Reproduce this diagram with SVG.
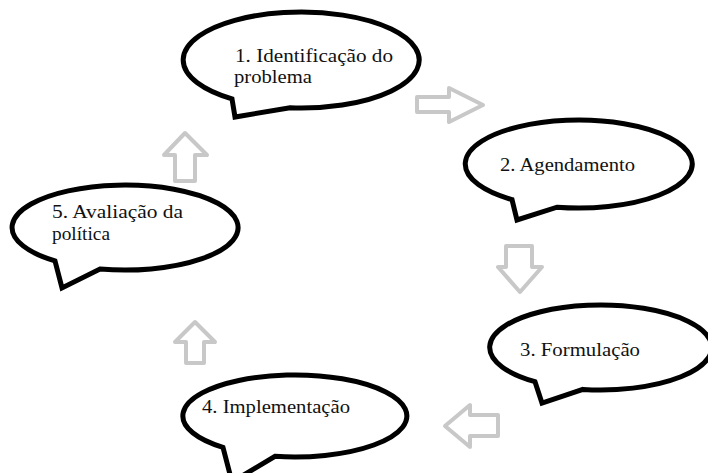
<svg xmlns="http://www.w3.org/2000/svg" width="708" height="473" viewBox="0 0 708 473">
<style>
.bubble{fill:#fff;stroke:#000;stroke-width:5;stroke-linejoin:miter}
.lbl{font-size:19px;fill:#111}
.arrow{fill:#fff;stroke:#c8c8c8;stroke-width:4;stroke-linejoin:round}
</style>
<rect width="708" height="473" fill="#fff"/>
<g id="connectors">
<polygon class="arrow" points="417,97 449,97 449,88 483,105 449,122 449,112 417,112"/>
<polygon class="arrow" points="506,246 532,246 532,267 542,267 520,292 498,267 506,267"/>
<polygon class="arrow" points="445,426 470,405 470,415 498,415 498,436 470,436 470,447"/>
<polygon class="arrow" points="195,322 215,342 204,342 204,363 186,363 186,342 175,342"/>
<polygon class="arrow" points="185,133 207,155 195,155 195,181 175,181 175,155 164,155"/>
</g>
<g font-family="Liberation Serif, DejaVu Serif, serif">
<g id="node1">
<path class="bubble" d="M 232,98.9 A 118 48 0 1 1 290,107.8 L 235,117 Z"/>
<text class="lbl" x="235" y="62" textLength="158" lengthAdjust="spacingAndGlyphs">1. Identificação do</text>
<text class="lbl" x="234" y="83" textLength="78" lengthAdjust="spacingAndGlyphs">problema</text>
</g>
<g id="node2">
<path class="bubble" d="M 512,199.6 A 113.5 44 0 1 1 557,207.2 L 517,220 Z"/>
<text class="lbl" x="500" y="171" textLength="135" lengthAdjust="spacingAndGlyphs">2. Agendamento</text>
</g>
<g id="node3">
<path class="bubble" d="M 535,381.7 A 111 42.5 0 1 1 583,389.4 L 542,403 Z"/>
<text class="lbl" x="520" y="356" textLength="120" lengthAdjust="spacingAndGlyphs">3. Formulação</text>
</g>
<g id="node4">
<path class="bubble" d="M 223,447.4 A 112 41 0 1 1 275,456.3 L 232,482 Z"/>
<text class="lbl" x="202" y="413" textLength="148" lengthAdjust="spacingAndGlyphs">4. Implementação</text>
</g>
<g id="node5">
<path class="bubble" d="M 55,260.9 A 113 42.5 0 1 1 100,269 L 62,288 Z"/>
<text class="lbl" x="52" y="218" textLength="131" lengthAdjust="spacingAndGlyphs">5. Avaliação da</text>
<text class="lbl" x="52" y="240" textLength="58" lengthAdjust="spacingAndGlyphs">política</text>
</g>
</g>
</svg>
